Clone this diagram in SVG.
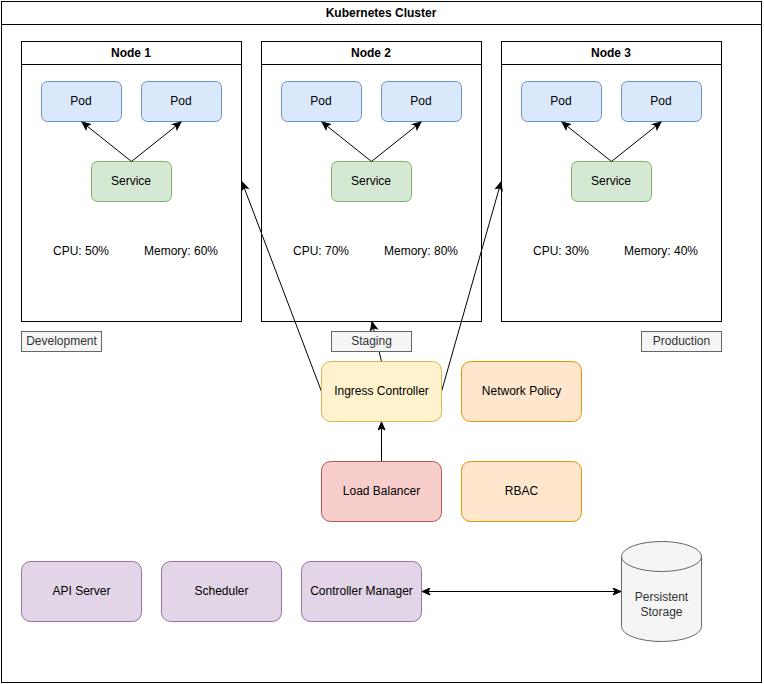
<svg xmlns="http://www.w3.org/2000/svg" width="764" height="684" viewBox="0 0 764 684">
<defs>
<marker id="arr" markerWidth="10" markerHeight="10" refX="9" refY="4" orient="auto" markerUnits="userSpaceOnUse">
<path d="M1,0.5 L9,4 L1,7.5 L3,4 Z" fill="#000" stroke="#000" stroke-width="1"/>
</marker>
<marker id="arrs" markerWidth="10" markerHeight="10" refX="1" refY="4" orient="auto" markerUnits="userSpaceOnUse">
<path d="M9,0.5 L1,4 L9,7.5 L7,4 Z" fill="#000" stroke="#000" stroke-width="1"/>
</marker>
</defs>
<style>
text{font-family:"Liberation Sans",Arial,sans-serif;font-size:12px;text-anchor:middle;dominant-baseline:central;fill:#000}
.b{font-weight:bold}
.frame{fill:#fff;stroke:#000;stroke-width:1}
.pod{fill:#dae8fc;stroke:#6c8ebf}
.svc{fill:#d5e8d4;stroke:#82b366}
.env{fill:#f5f5f5;stroke:#666}
.env+text,.gt{fill:#333}
.ing{fill:#fff2cc;stroke:#d6b656}
.org{fill:#ffe6cc;stroke:#d79b00}
.lb{fill:#f8cecc;stroke:#b85450}
.cp{fill:#e1d5e7;stroke:#9673a6}
.con{fill:none;stroke:#000;stroke-width:1}
</style>
<rect width="764" height="684" fill="#fff"/>
<g id="cluster">
<rect class="frame" x="1.5" y="1.5" width="760" height="681"/>
<line x1="1.5" y1="24.5" x2="761.5" y2="24.5" stroke="#000"/>
<text class="b" x="381" y="13">Kubernetes Cluster</text>
</g>
<g id="node1">
<rect class="frame" x="21.5" y="41.5" width="220" height="280"/>
<line x1="21.5" y1="64.5" x2="241.5" y2="64.5" stroke="#000"/>
<text class="b" x="131" y="53">Node 1</text>
<text x="81" y="251">CPU: 50%</text>
<text x="181" y="251">Memory: 60%</text>
</g>
<g id="node2">
<rect class="frame" x="261.5" y="41.5" width="220" height="280"/>
<line x1="261.5" y1="64.5" x2="481.5" y2="64.5" stroke="#000"/>
<text class="b" x="371" y="53">Node 2</text>
<text x="321" y="251">CPU: 70%</text>
<text x="421" y="251">Memory: 80%</text>
</g>
<g id="node3">
<rect class="frame" x="501.5" y="41.5" width="220" height="280"/>
<line x1="501.5" y1="64.5" x2="721.5" y2="64.5" stroke="#000"/>
<text class="b" x="611" y="53">Node 3</text>
<text x="561" y="251">CPU: 30%</text>
<text x="661" y="251">Memory: 40%</text>
</g>
<g id="pod1a"><rect class="pod" x="41.5" y="81.5" width="80" height="40" rx="6"/><text x="81" y="101">Pod</text></g>
<g id="pod1b"><rect class="pod" x="141.5" y="81.5" width="80" height="40" rx="6"/><text x="181" y="101">Pod</text></g>
<g id="svc1"><rect class="svc" x="91.5" y="161.5" width="80" height="40" rx="6"/><text x="131" y="181">Service</text></g>
<g id="pod2a"><rect class="pod" x="281.5" y="81.5" width="80" height="40" rx="6"/><text x="321" y="101">Pod</text></g>
<g id="pod2b"><rect class="pod" x="381.5" y="81.5" width="80" height="40" rx="6"/><text x="421" y="101">Pod</text></g>
<g id="svc2"><rect class="svc" x="331.5" y="161.5" width="80" height="40" rx="6"/><text x="371" y="181">Service</text></g>
<g id="pod3a"><rect class="pod" x="521.5" y="81.5" width="80" height="40" rx="6"/><text x="561" y="101">Pod</text></g>
<g id="pod3b"><rect class="pod" x="621.5" y="81.5" width="80" height="40" rx="6"/><text x="661" y="101">Pod</text></g>
<g id="svc3"><rect class="svc" x="571.5" y="161.5" width="80" height="40" rx="6"/><text x="611" y="181">Service</text></g>
<g id="connectors">
<line class="con" x1="131.5" y1="161.5" x2="82" y2="122" marker-end="url(#arr)"/>
<line class="con" x1="131.5" y1="161.5" x2="181" y2="122" marker-end="url(#arr)"/>
<line class="con" x1="371.5" y1="161.5" x2="322" y2="122" marker-end="url(#arr)"/>
<line class="con" x1="371.5" y1="161.5" x2="421" y2="122" marker-end="url(#arr)"/>
<line class="con" x1="611.5" y1="161.5" x2="562" y2="122" marker-end="url(#arr)"/>
<line class="con" x1="611.5" y1="161.5" x2="661" y2="122" marker-end="url(#arr)"/>
<line class="con" x1="321.5" y1="391.5" x2="242" y2="182" marker-end="url(#arr)"/>
<line class="con" x1="441.5" y1="391.5" x2="501" y2="182" marker-end="url(#arr)"/>
<line class="con" x1="381.5" y1="361.5" x2="372" y2="322" marker-end="url(#arr)"/>
<line class="con" x1="381.5" y1="461.5" x2="381.5" y2="422" marker-end="url(#arr)"/>
<line class="con" x1="422" y1="591.5" x2="621" y2="591.5" marker-start="url(#arrs)" marker-end="url(#arr)"/>
</g>
<g id="dev"><rect class="env" x="21.5" y="331.5" width="80" height="20"/><text class="gt" x="61.5" y="341">Development</text></g>
<g id="staging"><rect class="env" x="331.5" y="331.5" width="80" height="20"/><text class="gt" x="371.5" y="341">Staging</text></g>
<g id="prod"><rect class="env" x="641.5" y="331.5" width="80" height="20"/><text class="gt" x="681.5" y="341">Production</text></g>
<g id="ingress"><rect class="ing" x="321.5" y="361.5" width="120" height="60" rx="9"/><text x="381.5" y="391">Ingress Controller</text></g>
<g id="netpol"><rect class="org" x="461.5" y="361.5" width="120" height="60" rx="9"/><text x="521.5" y="391">Network Policy</text></g>
<g id="lb"><rect class="lb" x="321.5" y="461.5" width="120" height="60" rx="9"/><text x="381.5" y="491">Load Balancer</text></g>
<g id="rbac"><rect class="org" x="461.5" y="461.5" width="120" height="60" rx="9"/><text x="521.5" y="491">RBAC</text></g>
<g id="api"><rect class="cp" x="21.5" y="561.5" width="120" height="60" rx="9"/><text x="81.5" y="591">API Server</text></g>
<g id="sched"><rect class="cp" x="161.5" y="561.5" width="120" height="60" rx="9"/><text x="221.5" y="591">Scheduler</text></g>
<g id="cm"><rect class="cp" x="301.5" y="561.5" width="120" height="60" rx="9"/><text x="361.5" y="591">Controller Manager</text></g>
<g id="storage">
<path d="M621.5,556.5 A40,15 0 0 1 701.5,556.5 L701.5,626.5 A40,15 0 0 1 621.5,626.5 Z" fill="#f5f5f5" stroke="#666"/>
<path d="M621.5,556.5 A40,15 0 0 0 701.5,556.5" fill="none" stroke="#666"/>
<text class="gt" x="661.5" y="597">Persistent</text>
<text class="gt" x="661.5" y="612">Storage</text>
</g>
</svg>
